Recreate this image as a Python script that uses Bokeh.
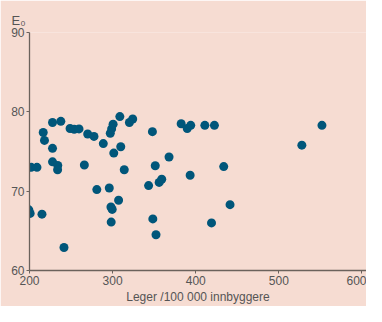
from bokeh.plotting import figure
from bokeh.models import FixedTicker, Range1d
from bokeh.embed import file_html
from bokeh.resources import INLINE

# Data: doctors per 100 000 inhabitants vs life expectancy E0
leger = [202, 209, 199.2, 200.8, 215, 216.5, 218, 227.7, 237.7, 227.7,
         227.7, 234, 233.8, 241.5, 248.8, 253.8, 259.6, 266, 270, 277.6,
         281, 288.8, 296, 297.2, 298.8, 300.6, 301.4, 298, 299.5, 298.3,
         307.2, 308.7, 309.8, 314, 320.2, 324.2, 343.3, 347.9, 348.4, 351.3,
         352.2, 356, 359.1, 367.9, 382.5, 389.8, 394, 393.3, 411, 419,
         422.5, 433.7, 441.3, 527.7, 551.9]
e0 = [73.0, 73.0, 67.65, 67.2, 67.1, 77.4, 76.4, 78.65, 78.8, 75.4,
      73.7, 73.25, 72.7, 62.9, 77.9, 77.8, 77.85, 73.3, 77.2, 76.9,
      70.2, 76.0, 70.4, 77.3, 77.85, 78.45, 74.8, 68.0, 67.7, 66.1,
      68.85, 79.4, 75.6, 72.7, 78.65, 79.1, 70.7, 77.5, 66.5, 73.2,
      64.5, 71.1, 71.5, 74.3, 78.5, 77.9, 78.3, 72.0, 78.3, 66.0,
      78.3, 73.1, 68.3, 75.8, 78.3]
x_ticks = [200, 300, 400, 500, 600]
y_ticks = [60, 70, 80, 90]
x_title = "Leger /100 000 innbyggere"
y_title = "E\u2080"

BG = "#f6dcd2"
DOT = "#00567a"
AX = "#6b625c"
TXT = "#555555"
FONT = "Liberation Sans"

p = figure(width=366, height=306, output_backend="svg", toolbar_location=None,
           x_range=Range1d(200, 605.5), y_range=Range1d(60, 90),
           min_border_left=29, min_border_right=0, min_border_top=32,
           min_border_bottom=34)
p.background_fill_color = BG
p.border_fill_color = BG
p.outline_line_color = None
p.xgrid.visible = False
p.ygrid.visible = False

p.title.text = y_title
p.title.align = "left"
p.title.offset = -18
p.title.standoff = 9
p.title.text_font = FONT
p.title.text_font_style = "normal"
p.title.text_font_size = "13px"
p.title.text_color = TXT

p.scatter(leger, e0, size=9, color=DOT, line_color=None)

for ax, ticks in ((p.xaxis, x_ticks), (p.yaxis, y_ticks)):
    ax.ticker = FixedTicker(ticks=ticks)
    ax.minor_tick_line_color = None
    ax.major_tick_in = 0
    ax.major_tick_out = 3
    ax.axis_line_color = AX
    ax.axis_line_width = 1.3
    ax.major_tick_line_color = AX
    ax.major_label_text_color = TXT
    ax.major_label_text_font = FONT
    ax.major_label_text_font_size = "12px"
    ax.major_label_standoff = 2

p.xaxis.axis_label = x_title
p.xaxis.axis_label_text_font = FONT
p.xaxis.axis_label_text_font_style = "normal"
p.xaxis.axis_label_text_font_size = "12px"
p.xaxis.axis_label_text_color = TXT
p.xaxis.axis_label_standoff = 2

open("out.html", "w").write(file_html(p, INLINE))
